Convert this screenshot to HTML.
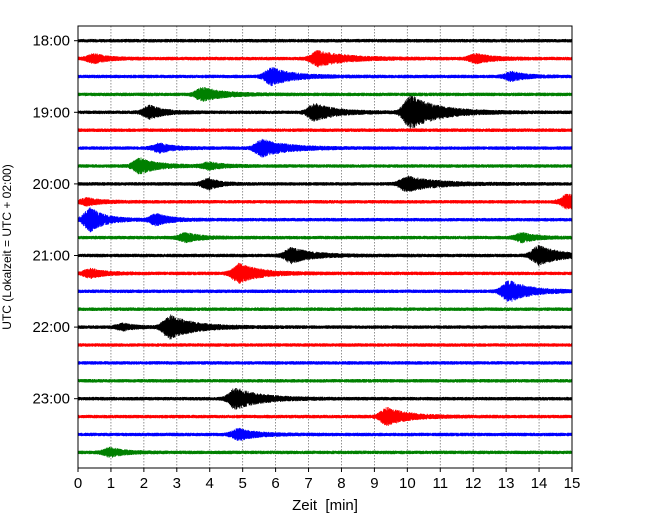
<!DOCTYPE html>
<html><head><meta charset="utf-8">
<style>
body{margin:0;background:#fff;}
svg{display:block;font-family:"Liberation Sans","DejaVu Sans",sans-serif;}
</style></head>
<body>
<svg id="chart" width="650" height="520" viewBox="0 0 650 520" xmlns="http://www.w3.org/2000/svg">
<g id="grid"></g>
<g id="traces"></g>
<rect x="78" y="26" width="494" height="442" fill="none" stroke="#000" stroke-width="1"/>
<g id="xaxis"></g>
<g id="yaxis"></g>
<text x="325" y="510" text-anchor="middle" font-size="15" style="white-space:pre" xml:space="preserve">Zeit  [min]</text>
<text transform="translate(11,247) rotate(-90)" text-anchor="middle" font-size="12">UTC (Lokalzeit = UTC + 02:00)</text>
</svg>
<script>
// data
const xTicks = [0,1,2,3,4,5,6,7,8,9,10,11,12,13,14,15];
const hourLabels = ["18:00","19:00","20:00","21:00","22:00","23:00"];
const traceColors = ["#000","#f00","#00f","#008000"];
const traceCount = 24;
// events: traceIndex, centerMinute, amplitudePx, decayMinutes
const eventTrace = [1,1,1,2,2,3,4,4,4,6,6,7,7,8,8,9,9,10,10,11,11,12,12,13,13,14,16,16,20,21,22,23];
const eventTime  = [0.5,7.3,12.1,5.9,13.2,3.8,2.2,7.2,10.1,5.6,2.5,1.9,4.0,4.0,10.0,0.3,14.9,0.4,2.4,3.3,13.5,6.5,14.0,0.4,4.9,13.1,2.8,1.4,4.8,9.4,4.9,1.0];
const eventAmp   = [4,7,4,8,4,6,6,8,16,8,4,7,3,5,7,3,7,11,5,4,4,7,9,4,9,10,11,3,10,8,5,4];
const eventDecay = [0.4,0.8,0.5,0.6,0.4,0.6,0.4,0.6,0.8,0.7,0.4,0.5,0.4,0.3,0.8,0.4,0.5,0.4,0.4,0.4,0.4,0.6,0.6,0.4,0.6,0.6,0.7,0.3,0.7,0.6,0.5,0.4];

const NS="http://www.w3.org/2000/svg";
const x0=78,x1=572,yTop=26,yBot=468,y0=40.7,dy=17.9;
const xs=t=>x0+(t/15)*(x1-x0);
const ys=i=>y0+i*dy;
function mk(tag,attrs,parent){const e=document.createElementNS(NS,tag);for(const k in attrs)e.setAttribute(k,attrs[k]);parent.appendChild(e);return e;}

const grid=document.getElementById('grid');
xTicks.forEach(t=>{ if(t>0&&t<15){
  const l=mk('line',{x1:xs(t),x2:xs(t),y1:yTop,y2:yBot,stroke:'#777','stroke-width':0.8,'stroke-dasharray':'1.5,1.5'},grid);
  
  
}});
const xa=document.getElementById('xaxis');
xTicks.forEach(t=>{
  const l=mk('line',{x1:xs(t),x2:xs(t),y1:yBot,y2:yBot+4,stroke:'#000'},xa);
  
  
  const tx=mk('text',{x:xs(t),y:yBot+20,'text-anchor':'middle','font-size':15},xa);
  tx.textContent=t;
  
  
});
const ya=document.getElementById('yaxis');
hourLabels.forEach((lab,h)=>{
  const y=ys(h*4);
  const l=mk('line',{x1:x0-4,x2:x0,y1:y,y2:y,stroke:'#000'},ya);
  
  
  const tx=mk('text',{x:x0-8,y:y+5,'text-anchor':'end','font-size':15},ya);
  tx.textContent=lab;
  
  
});

// deterministic pseudo-noise for waveform texture
let seed=12345;
function rnd(){seed=(seed*1103515245+12345)&0x7fffffff;return seed/0x7fffffff*2-1;}
const tr=document.getElementById('traces');
for(let i=0;i<traceCount;i++){
  const base=ys(i);
  let d='';
  let sgn=1;
  for(let px=x0;px<=x1;px+=0.15){
    const t=(px-x0)/(x1-x0)*15;
    let a=1.8;
    for(let k=0;k<eventTrace.length;k++){
      if(eventTrace[k]!==i)continue;
      const c=eventTime[k],dec=eventDecay[k];
      const r=0.25;
      let e = t<c ? Math.exp(-Math.pow((t-c)/r,2)) : Math.exp(-(t-c)/dec);
      a+=eventAmp[k]*e;
    }
    sgn=-sgn;
    const y=base+sgn*a*(0.5+0.5*Math.abs(rnd()));
    d+=(d?'L':'M')+px.toFixed(2)+','+y.toFixed(2);
  }
  const p=mk('path',{d:d,fill:'none',stroke:traceColors[i%4],'stroke-width':0.8},tr);
  
  
}
</script>
</body></html>
